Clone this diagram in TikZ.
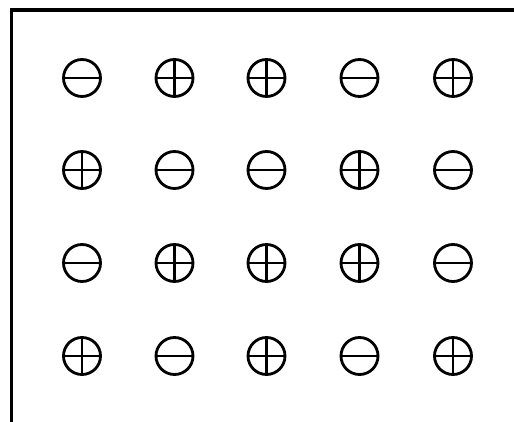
\documentclass[tikz,border=0pt]{standalone}
\usepackage{xcolor}
\usepackage{tikz}

\begin{document}
\begin{tikzpicture}[x=1cm,y=1cm,
  charge/.style={circle,draw=black,line width=0.8pt,inner sep=0pt,minimum size=0.37cm},
  negcharge/.style={charge,path picture={\draw[line width=0.7pt] (path picture bounding box.west) -- (path picture bounding box.east);}},
  poscharge/.style={charge,path picture={\draw[line width=0.7pt] (path picture bounding box.west) -- (path picture bounding box.east);
    \draw[line width=0.7pt] (path picture bounding box.north) -- (path picture bounding box.south);}}]
\path[use as bounding box] (0,0) rectangle (5.14,4.22);
\coordinate (frameTop) at (0.115,4.12);
\coordinate (frameBot) at (0.115,0);
\coordinate (frameEnd) at (5.14,4.12);
\draw[line width=0.9pt] (frameBot) -- (frameTop) -- (frameEnd);
% row 1
\node[negcharge] (r1c1) at (0.82,3.44) {};
\node[poscharge] (r1c2) at (1.745,3.44) {};
\node[poscharge] (r1c3) at (2.665,3.44) {};
\node[negcharge] (r1c4) at (3.595,3.44) {};
\node[poscharge] (r1c5) at (4.53,3.44) {};
% row 2
\node[poscharge] (r2c1) at (0.82,2.52) {};
\node[negcharge] (r2c2) at (1.745,2.52) {};
\node[negcharge] (r2c3) at (2.665,2.52) {};
\node[poscharge] (r2c4) at (3.595,2.52) {};
\node[negcharge] (r2c5) at (4.53,2.52) {};
% row 3
\node[negcharge] (r3c1) at (0.82,1.59) {};
\node[poscharge] (r3c2) at (1.745,1.59) {};
\node[poscharge] (r3c3) at (2.665,1.59) {};
\node[poscharge] (r3c4) at (3.595,1.59) {};
\node[negcharge] (r3c5) at (4.53,1.59) {};
% row 4
\node[poscharge] (r4c1) at (0.82,0.66) {};
\node[negcharge] (r4c2) at (1.745,0.66) {};
\node[poscharge] (r4c3) at (2.665,0.66) {};
\node[negcharge] (r4c4) at (3.595,0.66) {};
\node[poscharge] (r4c5) at (4.53,0.66) {};
\end{tikzpicture}
\end{document}
